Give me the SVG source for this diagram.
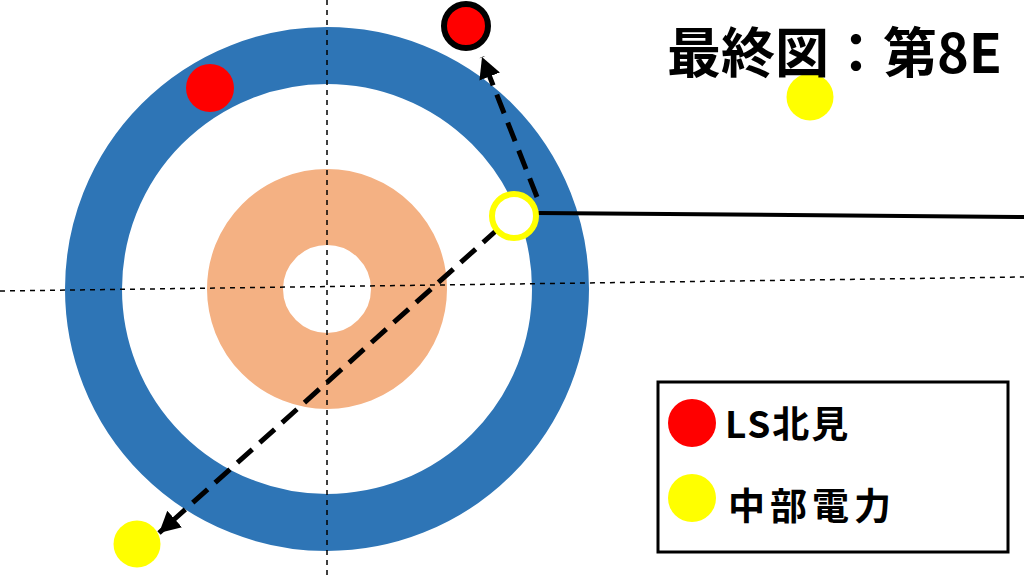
<svg xmlns="http://www.w3.org/2000/svg" width="1024" height="576" viewBox="0 0 1024 576">
  <style>
    .guide { stroke: #000; stroke-width: 1.5; stroke-dasharray: 5 5; fill: none; }
    .move { stroke: #000; stroke-width: 5; stroke-dasharray: 20 10; fill: none; }
    .red { fill: #FF0000; }
    .yellow { fill: #FFFF00; }
    .label { font-family: "Noto Sans CJK JP", "Noto Sans", sans-serif; font-weight: bold; fill: #000; }
  </style>
  <defs>
    <marker id="arrow" markerUnits="userSpaceOnUse" markerWidth="24" markerHeight="22" refX="21" refY="11" orient="auto">
      <path d="M0,0 L21,11 L0,22 z" fill="#000"/>
    </marker>
  </defs>
  <rect width="1024" height="576" fill="#FFFFFF"/>

  <g id="house">
    <circle cx="327" cy="289" r="233.5" fill="none" stroke="#2E75B6" stroke-width="57"/>
    <circle cx="327" cy="289" r="82" fill="none" stroke="#F4B183" stroke-width="76"/>
  </g>

  <g id="guides">
    <line class="guide" x1="327" y1="0" x2="327" y2="576"/>
    <line class="guide" x1="0" y1="291" x2="1024" y2="277"/>
  </g>

  <g id="connectors">
    <line class="move" x1="537" y1="197" x2="482" y2="57" marker-end="url(#arrow)"/>
    <line class="move" x1="498" y1="229" x2="159" y2="533" marker-end="url(#arrow)"/>
    <line x1="538" y1="213" x2="1024" y2="217" stroke="#000" stroke-width="4"/>
  </g>

  <g id="stone-red-in-house"><circle class="red" cx="210" cy="88" r="24"/></g>
  <g id="stone-red-out"><circle class="red" cx="466" cy="26" r="22" stroke="#000" stroke-width="6"/></g>
  <g id="stone-yellow-hit"><circle cx="514" cy="216" r="22" fill="#FFFFFF" stroke="#FFFF00" stroke-width="6"/></g>
  <g id="stone-yellow-top"><circle class="yellow" cx="810" cy="97" r="23.5"/></g>
  <g id="stone-yellow-bottom"><circle class="yellow" cx="137" cy="544" r="23.5"/></g>

  <g id="title">
    <text class="label" x="667" y="73" font-size="54">最終図：第8E</text>
  </g>

  <g id="legend">
    <rect x="658" y="382" width="350" height="170" fill="#FFFFFF" stroke="#000" stroke-width="3"/>
    <circle class="red" cx="692" cy="423" r="24"/>
    <text class="label" x="725" y="438" font-size="37" letter-spacing="2">LS北見</text>
    <circle class="yellow" cx="692" cy="498" r="24"/>
    <text class="label" x="728" y="520" font-size="37" letter-spacing="5">中部電力</text>
  </g>
</svg>
